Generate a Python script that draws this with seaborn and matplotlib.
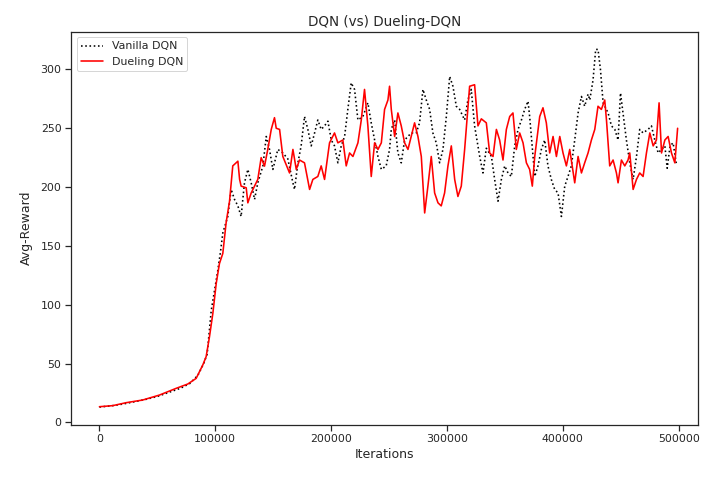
import matplotlib
matplotlib.use("Agg")
import matplotlib.pyplot as plt
import seaborn as sns
import pandas as pd

# ---- data ----
vanilla_x = [0, 10000, 20000, 30000, 40000, 50000, 60000, 70000, 78000, 85000,
             90000, 93000, 96500, 99000, 102000, 104500, 106500, 110800, 113700, 116600,
             119500, 122300, 125200, 128100, 131000, 133900, 136700, 141100, 144000, 146800,
             149700, 154000, 158300, 162600, 167000, 168400, 171300, 174100, 177000, 179900,
             182800, 185700, 188500, 191400, 194300, 197200, 200100, 202900, 205800, 208700,
             211600, 214400, 217300, 220200, 223100, 227400, 231700, 234600, 237500, 240400,
             243300, 247500, 250400, 251900, 254800, 257600, 260500, 263400, 266300, 269100,
             273400, 276300, 279200, 282100, 285000, 287800, 290700, 293600, 296500, 299400,
             302300, 305100, 308000, 310900, 315200, 318000, 320900, 323800, 328200, 331000,
             333900, 338300, 341100, 344000, 346900, 349800, 352600, 355500, 358400, 361300,
             364200, 367000, 369900, 371300, 374200, 375700, 378500, 381400, 384300, 387100,
             390000, 392900, 395800, 398700, 401600, 404400, 407300, 410200, 413100, 416000,
             418800, 421700, 423200, 426000, 428300, 430300, 432400, 434700, 439000, 441900,
             444800, 447600, 449700, 451900, 454800, 457700, 460600, 463500, 466300, 469200,
             473500, 476400, 479300, 482200, 485100, 488000, 490000, 492500, 495100, 498000]
vanilla_y = [13, 14, 15.5, 17.5, 19.5, 22, 25.5, 29, 33, 40,
             50, 58, 95, 110, 128, 145, 161, 175, 198, 189.5,
             184, 175, 203.6, 215, 203.6, 189.5, 203.6, 218, 243, 232,
             215, 232, 229, 224, 203.6, 198, 220.6, 235, 260, 249,
             235, 246, 257, 249, 252, 256, 240, 235, 220.6, 235,
             243, 266, 288.6, 283, 257, 260, 271.6, 254.5, 240, 226,
             215, 218, 232, 249, 257, 229, 220.6, 240, 243, 246,
             246, 254.6, 283, 274, 266, 246, 237.6, 220.6, 232, 260,
             294, 285.7, 268.7, 266, 257, 274, 283, 252, 226, 212,
             233, 226, 206.5, 188, 206.5, 218, 212, 209, 235, 249,
             257, 266, 273, 260, 226, 209, 218, 232, 240, 218,
             206.5, 198, 195, 175, 200.8, 209, 218, 240, 263, 277,
             268.7, 279, 274, 291, 317, 317, 300, 271.6, 263, 252,
             249, 240, 280, 263, 240, 220.6, 206.5, 226, 249, 246,
             249, 252, 240, 229, 232, 235, 216, 235, 237.6, 219]

dueling_x = [0, 11500, 23000, 37400, 51800, 66200, 76300, 83500, 89200, 92100,
             95000, 97900, 100800, 103600, 106500, 109400, 112300, 115100, 119500, 121000,
             122300, 126700, 128100, 131000, 133900, 136700, 139600, 142500, 145300, 148300,
             151100, 152600, 155500, 158300, 161200, 164100, 167000, 169900, 172700, 177000,
             181400, 184200, 188500, 191400, 194300, 198600, 202900, 205800, 210100, 213000,
             215900, 218800, 223100, 226000, 228800, 231700, 234600, 237500, 240400, 243300,
             246100, 249000, 250400, 251900, 254800, 257600, 260500, 263400, 266300, 269100,
             272000, 274900, 277800, 280700, 283500, 286400, 289300, 292200, 295000, 297900,
             300800, 303700, 306600, 309400, 312300, 315200, 319500, 323800, 326700, 329600,
             333900, 336800, 339700, 342600, 345400, 348300, 351200, 354100, 356900, 359800,
             362700, 365600, 368500, 371300, 373600, 375700, 380000, 382800, 385700, 388600,
             391500, 394400, 397300, 400100, 403000, 405900, 410200, 413100, 416000, 418800,
             421700, 424600, 427500, 430300, 433200, 436100, 437600, 440400, 443300, 446200,
             447600, 450500, 453400, 456200, 457700, 460600, 463500, 466300, 469200, 472100,
             475000, 477900, 480700, 483000, 485100, 488000, 490800, 493700, 496600, 499000]
dueling_y = [13.3, 14.2, 16.7, 19, 23.2, 28.9, 32.6, 37.4, 48.7, 55.8,
             72.8, 92.6, 118, 135, 143.6, 170, 188, 218, 222, 206.5,
             200.8, 199.4, 186.6, 195, 200.8, 206.5, 225, 217.8, 232, 249,
             259, 250, 249, 226, 219, 212, 232, 215, 223, 220.6,
             198, 206.5, 209, 218, 206.5, 237.6, 246, 237.6, 240, 218,
             229, 226, 237.6, 257, 283, 252, 209, 237.6, 232, 237.6,
             266, 274, 285.7, 266, 243, 263, 252, 237.6, 232, 243,
             254.6, 243, 226, 178, 200.8, 226, 195, 186.6, 184, 195,
             218, 235, 206.5, 192, 200.8, 232, 285.7, 287, 252, 258,
             254.6, 229, 226, 249, 240, 223, 249, 260, 263, 232,
             246, 237.6, 220.6, 215, 200.8, 226, 260, 267.4, 254.6, 229,
             243, 226, 243, 229, 218, 232, 203.6, 226, 212, 220.6,
             229, 240, 249, 268.7, 266, 274, 257, 218, 223, 212,
             203.6, 223, 218, 223, 229, 198, 206.5, 212, 209, 229,
             246, 235, 240, 271.6, 229, 240, 243, 229, 220.6, 250]

series_names = ["Vanilla DQN", "Dueling DQN"]
title = "DQN (vs) Dueling-DQN"
x_label = "Iterations"
y_label = "Avg-Reward"

# ---- plot ----
sns.set_theme(style="ticks", context="notebook")
fig, ax = plt.subplots(figsize=(701 / 72, 478 / 72), dpi=72)
fig.subplots_adjust(left=0.1013, right=0.9964, bottom=0.111, top=0.934)

df_v = pd.DataFrame({"x": vanilla_x, "y": vanilla_y})
df_d = pd.DataFrame({"x": dueling_x, "y": dueling_y})

sns.lineplot(data=df_v, x="x", y="y", ax=ax, color="black", linestyle=":",
             linewidth=1.6, label=series_names[0], estimator=None)
sns.lineplot(data=df_d, x="x", y="y", ax=ax, color="red", linestyle="-",
             linewidth=1.6, label=series_names[1], estimator=None)

ax.set_xlim(-24500, 517000)
ax.set_title(title, fontsize=13.5)
ax.set_xlabel(x_label, fontsize=12.5)
ax.set_ylabel(y_label, fontsize=12.5, labelpad=8)
ax.legend(loc="upper left")

fig.savefig("out.png", dpi=72)
